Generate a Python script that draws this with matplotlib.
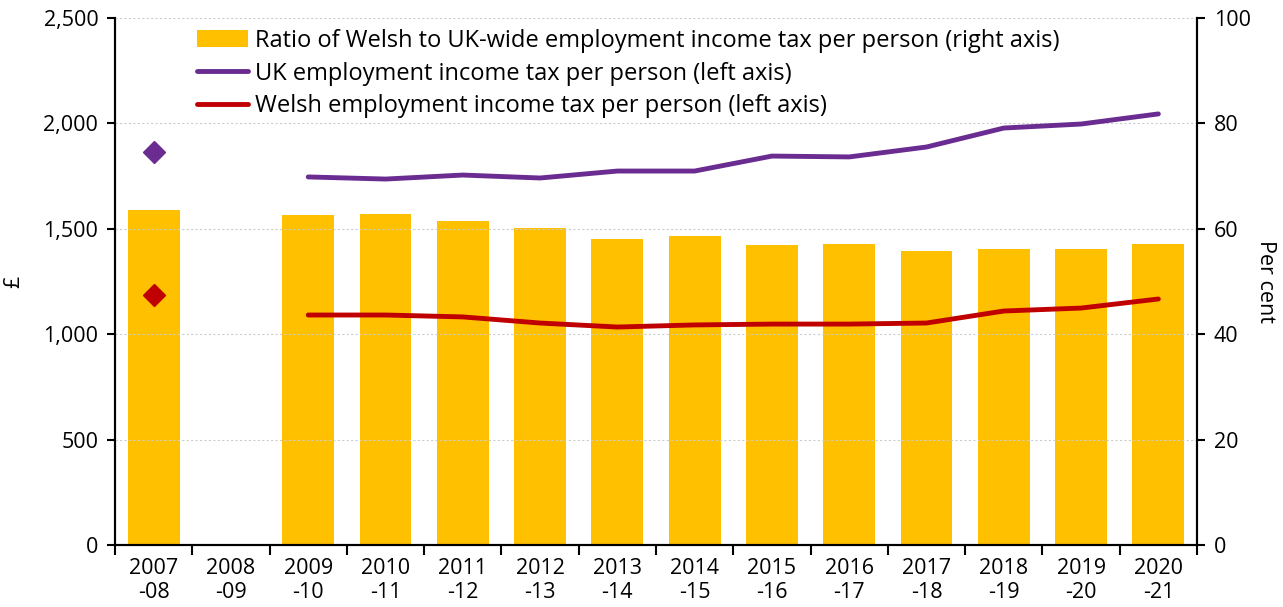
import matplotlib
matplotlib.use("Agg")
import matplotlib.pyplot as plt
import numpy as np

plt.rcParams['font.family'] = ['Open Sans', 'DejaVu Sans']

years = ["2007\n-08", "2008\n-09", "2009\n-10", "2010\n-11", "2011\n-12", "2012\n-13",
         "2013\n-14", "2014\n-15", "2015\n-16", "2016\n-17", "2017\n-18", "2018\n-19",
         "2019\n-20", "2020\n-21"]
ratio_pct = [63.6, np.nan, 62.6, 62.8, 61.5, 60.2, 58.1, 58.7, 56.9, 57.1, 55.8, 56.2, 56.2, 57.1]
uk_tax = [1864, np.nan, 1746, 1736, 1755, 1741, 1774, 1774, 1845, 1841, 1888, 1978, 1997, 2045]
welsh_tax = [1186, np.nan, 1091, 1091, 1082, 1053, 1034, 1044, 1048, 1048, 1053, 1110, 1124, 1167]

BAR = "#FFC000"
PURPLE = "#6A2C91"
RED = "#C00000"

fig = plt.figure(figsize=(12.83, 6.07), dpi=100)
ax = fig.add_axes([115/1283, 1-545/607, (1197-115)/1283, (545-18)/607])
ax2 = ax.twinx()

x = np.arange(len(years))

# Bars on the right axis
ax2.bar(x, ratio_pct, width=0.67, color=BAR, zorder=1,
        label="Ratio of Welsh to UK-wide employment income tax per person (right axis)")
ax2.set_ylim(0, 100)
ax2.set_yticks(np.arange(0, 101, 20))

# Lines on the left axis, drawn above the bars
ax.set_zorder(ax2.get_zorder() + 1)
ax.patch.set_visible(False)
ax.plot(x[2:], uk_tax[2:], color=PURPLE, lw=3.5, solid_capstyle='round',
        label="UK employment income tax per person (left axis)")
ax.plot(x[2:], welsh_tax[2:], color=RED, lw=3.5, solid_capstyle='round',
        label="Welsh employment income tax per person (left axis)")
ax.plot(x[0], uk_tax[0], marker='D', color=PURPLE, ms=11, ls='none')
ax.plot(x[0], welsh_tax[0], marker='D', color=RED, ms=11, ls='none')

ax.set_ylim(0, 2500)
ax.set_yticks(np.arange(0, 2501, 500))
ax.set_yticklabels([f"{v:,}" for v in range(0, 2501, 500)])
ax.set_xlim(-0.5, len(years) - 0.5)

ax.grid(axis='y', color='#cccccc', ls=(0, (2, 2)), lw=0.8)
ax2.set_axisbelow(True)

# Category boundaries carry the tick marks; labels sit at category centres
ax.set_xticks(np.arange(-0.5, len(years), 1.0))
ax.set_xticklabels([])
ax.set_xticks(x, minor=True)
ax.set_xticklabels(years, minor=True, fontsize=15.5, linespacing=1.2)
ax.tick_params(axis='x', which='major', direction='out', length=7, width=1.5)
ax.tick_params(axis='x', which='minor', length=0, pad=9)

ax.tick_params(axis='y', direction='out', length=6, width=1.5, labelsize=15.5, pad=6)
ax2.tick_params(axis='y', direction='out', length=6, width=1.5, labelsize=15.5, pad=6)

for a in (ax, ax2):
    a.spines['top'].set_visible(False)
    for s in ('left', 'right', 'bottom'):
        a.spines[s].set_linewidth(1.5)
        a.spines[s].set_color('black')

ax.set_ylabel("£", fontsize=15.5, labelpad=14)
ax2.set_ylabel("Per cent", fontsize=15.5, rotation=270, labelpad=18)

h1, l1 = ax2.get_legend_handles_labels()
h2, l2 = ax.get_legend_handles_labels()
leg = ax.legend(h1 + h2, l1 + l2, loc='upper left', bbox_to_anchor=(0.0758, 0.98),
                frameon=False, fontsize=17, handlelength=2.15, handletextpad=0.3,
                labelspacing=0.38, borderaxespad=0, borderpad=0)

fig.savefig("out.png", dpi=100)
